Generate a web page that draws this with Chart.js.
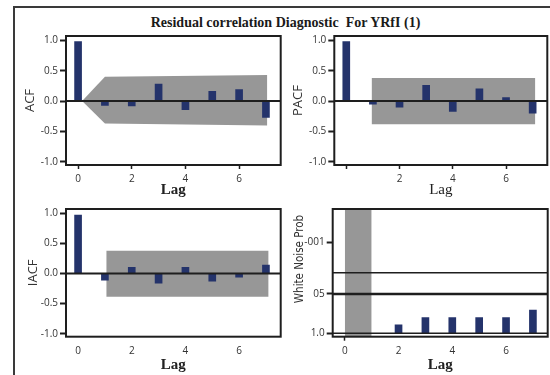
<!DOCTYPE html>
<html>
<head>
<meta charset="utf-8">
<title>Residual correlation Diagnostic For YRfI (1)</title>
<script src="https://cdn.jsdelivr.net/npm/chart.js"></script>
<style>
  body { margin: 0; background: #fff; }
  #page { position: relative; width: 550px; height: 375px; overflow: hidden; }
  .frame {
    position: absolute; left: 13px; top: 6px; width: 560px; height: 400px;
    border-top: 2px solid #3a3a3a; border-left: 2px solid #3a3a3a;
  }
  h1 {
    position: absolute; left: 0; top: 14px; width: 571px; margin: 0;
    text-align: center; white-space: pre;
    font: bold 14px/17px 'Liberation Serif', serif; color: #1a1a1a;
  }
  /* the log axis is reversed, which breaks Chart.js title alignment, so this one is HTML */
  .wn-title {
    position: absolute; left: 234px; top: 252px; width: 130px; height: 14px;
    line-height: 14px; text-align: center; white-space: nowrap;
    font-family: 'DejaVu Sans Condensed', 'DejaVu Sans', sans-serif; font-size: 11.5px;
    font-stretch: condensed; color: #333;
    transform: rotate(-90deg);
  }
  canvas { position: absolute; }
</style>
</head>
<body>
<div id="page">
  <div class="frame"></div>
  <h1>Residual correlation Diagnostic  For YRfI (1)</h1>
  <canvas id="acf"  width="272" height="172" style="left:14px;  top:28px"></canvas>
  <canvas id="pacf" width="262" height="172" style="left:288px; top:28px"></canvas>
  <canvas id="iacf" width="272" height="175" style="left:14px;  top:200px"></canvas>
  <canvas id="wn"   width="262" height="175" style="left:288px; top:200px"></canvas>
  <div class="wn-title">White Noise Prob</div>
</div>

<script>
  // values
  const lags = [0, 1, 2, 3, 4, 5, 6, 7];
  const acf  = [0.98, -0.07, -0.08, 0.28, -0.14, 0.16, 0.19, -0.27];
  const pacf = [0.98, -0.05, -0.10, 0.26, -0.17, 0.20, 0.06, -0.20];
  const iacf = [0.97, -0.11, 0.10, -0.16, 0.10, -0.13, -0.06, 0.14];
  const wnProb = [null, null, 0.53, 0.30, 0.30, 0.30, 0.30, 0.17];

  // confidence bands
  const acfBandLags  = [0.15, 1, 7.05];
  const acfBandUpper = [0, 0.40, 0.43];
  const acfBandLower = [0, -0.37, -0.40];
  const pacfBandLags  = [0.95, 7.1];
  const pacfBandUpper = [0.38, 0.38];
  const pacfBandLower = [-0.38, -0.38];
  const iacfBandLags  = [1.05, 7.1];
  const iacfBandUpper = [0.375, 0.375];
  const iacfBandLower = [-0.385, -0.385];
  const wnBandLags = [0, 1];
  const wnRefLines = [0.01, 0.05, 1.0];
  const wnBase = 1.0;

  // ticks
  const lagTicks  = [0, 2, 4, 6];
  const corrTicks = [-1, -0.5, 0, 0.5, 1];
  const wnTicks = [0.001, 0.05, 1.0];
  const wnTickLabels = ['-001', '05', '1.0'];

  const LAG_MIN = -0.45, LAG_MAX = 7.55;
  const CORR_MIN = -1.05, CORR_MAX = 1.07;
  const WN_MIN = 7.7e-5, WN_MAX = 1.3;

  const NAVY = '#24336b', GRAY = '#979797', INK = '#1e1e1e';
  const tickFont = { family: 'Open Sans', size: 10 };

  // box round the plot area + horizontal reference lines drawn over the bands
  const boxPlugin = {
    id: 'box',
    afterDatasetsDraw(chart, args, opts) {
      const { ctx, chartArea: a } = chart;
      const y = chart.scales.y;
      ctx.save();
      ctx.strokeStyle = INK;
      (opts.lines || []).forEach(l => {
        const py = y.getPixelForValue(l.value);
        ctx.lineWidth = l.width;
        ctx.beginPath();
        ctx.moveTo(a.left, py);
        ctx.lineTo(a.right, py);
        ctx.stroke();
      });
      ctx.lineWidth = 2;
      ctx.strokeRect(a.left, a.top, a.right - a.left, a.bottom - a.top);
      ctx.restore();
    }
  };

  const pts = (xs, ys) => xs.map((x, i) => ({ x: x, y: ys[i] }));

  function xScale(height, marks, hideZero, bold) {
    return {
      type: 'linear', min: LAG_MIN, max: LAG_MAX, offset: false,
      afterBuildTicks: ax => { ax.ticks = lagTicks.map(v => ({ value: v })); },
      afterFit: ax => { ax.height = height; },
      border: { display: false },
      grid: {
        offset: false, drawOnChartArea: false, color: 'transparent',
        tickLength: 4, tickWidth: 1.5,
        tickColor: c => (c.tick && marks.includes(c.tick.value)) ? INK : 'transparent'
      },
      ticks: {
        padding: 4, color: '#333', font: tickFont, maxRotation: 0, autoSkip: false,
        callback: v => (hideZero && v === 0) ? '' : String(v)
      },
      title: {
        display: true, text: 'Lag', color: '#222',
        font: { family: 'Liberation Serif', size: 15, weight: bold ? 'bold' : 'normal' },
        padding: { top: 0, bottom: 1 }
      }
    };
  }

  function corrY(width, title, titlePad) {
    return {
      min: CORR_MIN, max: CORR_MAX,
      afterBuildTicks: ax => { ax.ticks = corrTicks.map(v => ({ value: v })); },
      afterFit: ax => { ax.width = width; },
      border: { display: false },
      grid: { drawOnChartArea: false, color: 'transparent', tickColor: INK, tickLength: 6, tickWidth: 2 },
      ticks: { padding: 2, color: '#333', font: tickFont, callback: v => v.toFixed(1) },
      title: {
        display: true, text: title, color: '#333',
        font: { family: 'Open Sans', size: 13 },
        padding: { top: titlePad, bottom: 0 }
      }
    };
  }

  function bandSets(bLags, upper, lower) {
    const common = { type: 'line', pointRadius: 0, borderWidth: 0, borderColor: 'rgba(0,0,0,0)',
                     backgroundColor: GRAY, order: 2, tension: 0 };
    return [
      Object.assign({}, common, { data: pts(bLags, upper), fill: false }),
      Object.assign({}, common, { data: pts(bLags, lower), fill: '-1' })
    ];
  }

  function corrChart(id, values, band, yOpts, xOpts, pad) {
    return new Chart(document.getElementById(id), {
      type: 'bar',
      data: {
        datasets: [
          { data: pts(lags, values), backgroundColor: NAVY, barThickness: 7, order: 0 }
        ].concat(bandSets(band[0], band[1], band[2]))
      },
      options: {
        responsive: false, animation: false, devicePixelRatio: 1,
        layout: { padding: pad },
        plugins: { legend: { display: false }, tooltip: { enabled: false },
                   box: { lines: [{ value: 0, width: 2 }] } },
        scales: { x: xOpts, y: yOpts }
      },
      plugins: [boxPlugin]
    });
  }

  corrChart('acf', acf, [acfBandLags, acfBandUpper, acfBandLower],
    corrY(52, 'ACF', 8), xScale(35, lagTicks, false, true),
    { top: 8, right: 5.3, left: 0, bottom: 0 });

  corrChart('pacf', pacf, [pacfBandLags, pacfBandUpper, pacfBandLower],
    corrY(46.3, 'PACF', 2), xScale(35, lagTicks, true, false),
    { top: 8, right: 2.7, left: 0, bottom: 0 });

  corrChart('iacf', iacf, [iacfBandLags, iacfBandUpper, iacfBandLower],
    corrY(52, 'IACF', 11), xScale(38.3, [], false, true),
    { top: 9, right: 5.3, left: 0, bottom: 0 });

  // white noise probabilities on a reversed log axis, bars hang from 1.0
  new Chart(document.getElementById('wn'), {
    type: 'bar',
    data: {
      datasets: [
        {
          data: lags.map((l, i) => wnProb[i] == null ? null : { x: l, y: [wnBase, wnProb[i]] })
                    .filter(d => d),
          backgroundColor: NAVY, barThickness: 7, order: 0
        },
        {
          type: 'line', data: wnBandLags.map(x => ({ x: x, y: WN_MIN })), fill: 'start',
          pointRadius: 0, borderWidth: 0, borderColor: 'rgba(0,0,0,0)', backgroundColor: GRAY, order: 2
        }
      ]
    },
    options: {
      responsive: false, animation: false, devicePixelRatio: 1,
      layout: { padding: { top: 9, right: 2.3, left: 0, bottom: 0 } },
      plugins: {
        legend: { display: false }, tooltip: { enabled: false },
        box: { lines: wnRefLines.map((v, i) => ({ value: v, width: i === 1 ? 2.5 : 1.5 })) }
      },
      scales: {
        x: xScale(38.3, [0], false, true),
        y: {
          type: 'logarithmic', reverse: true, min: WN_MIN, max: WN_MAX,
          afterBuildTicks: ax => { ax.ticks = wnTicks.map(v => ({ value: v })); },
          afterFit: ax => { ax.width = 44.7; },
          border: { display: false },
          grid: { drawOnChartArea: false, color: 'transparent', tickColor: INK, tickLength: 6, tickWidth: 2 },
          ticks: { padding: 2, color: '#333', font: tickFont, callback: (v, i) => wnTickLabels[i] },
          title: { display: false }
        }
      }
    },
    plugins: [boxPlugin]
  });
</script>
</body>
</html>
